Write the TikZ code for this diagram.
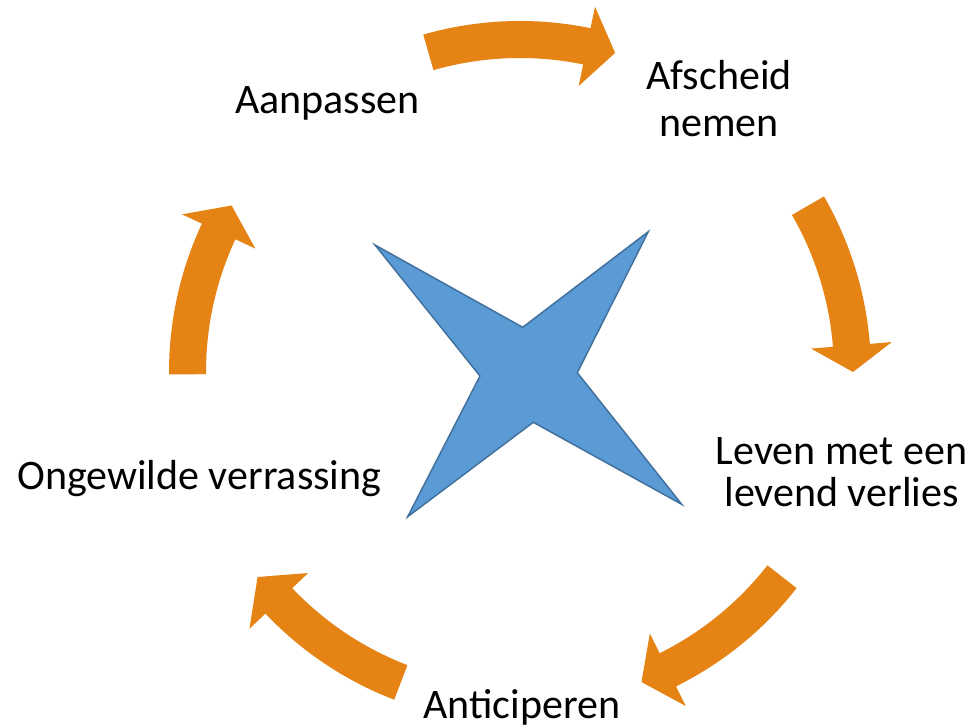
\documentclass[tikz,border=0pt]{standalone}
\usepackage{fontspec}
\setmainfont{Carlito}
\definecolor{arroworange}{RGB}{229,131,20}
\definecolor{starfill}{RGB}{91,155,213}
\definecolor{stardraw}{RGB}{65,113,156}
\begin{document}
\begin{tikzpicture}[x=1pt,y=1pt,
  lbl/.style={inner sep=0pt,anchor=base west,font=\fontsize{42}{50}\selectfont},
  clbl/.style={lbl,anchor=base},
  cyclearrow/.style={fill=arroworange,draw=none}]
\useasboundingbox (0,0) rectangle (972,728);
% labels
\node[lbl] (aanpassen) at (235,614.7) {Aanpassen};
\node[clbl] (afscheidA) at (719,638) {Afscheid};
\node[clbl] (afscheidB) at (719,591.3) {nemen};
\node[clbl] (levenA) at (841.5,263) {Leven met een};
\node[clbl] (levenB) at (841.5,221.3) {levend verlies};
\node[lbl] (anticiperen) at (423.3,9.7) {Anticiperen};
\node[lbl] (ongewilde) at (17,238) {Ongewilde verrassing};
% star
\draw[fill=starfill,draw=stardraw,line width=1.5pt,line join=miter]
  (375,483) -- (522.7,400.7) -- (648.3,496.3) -- (577.3,355.3)
  -- (681.7,223.7) -- (533.3,305.7) -- (407.7,211.3) -- (480,352) -- cycle;
% cycle arrows
\begin{scope}[shift={(520,356)}]
\foreach \ta/\tb/\tc in {106/78.4/73.4, 30/4.6/0, -38/-63.6/-68.6, -111/-136.5/-142, 180.4/155/150}{
  \fill[cyclearrow] (\ta:351) arc[start angle=\ta, end angle=\tb, radius=351]
    -- (\tb:373) -- (\tc:333) -- (\tb:292) -- (\tb:314)
    arc[start angle=\tb, end angle=\ta, radius=314] -- cycle;
}
\end{scope}
\end{tikzpicture}
\end{document}
